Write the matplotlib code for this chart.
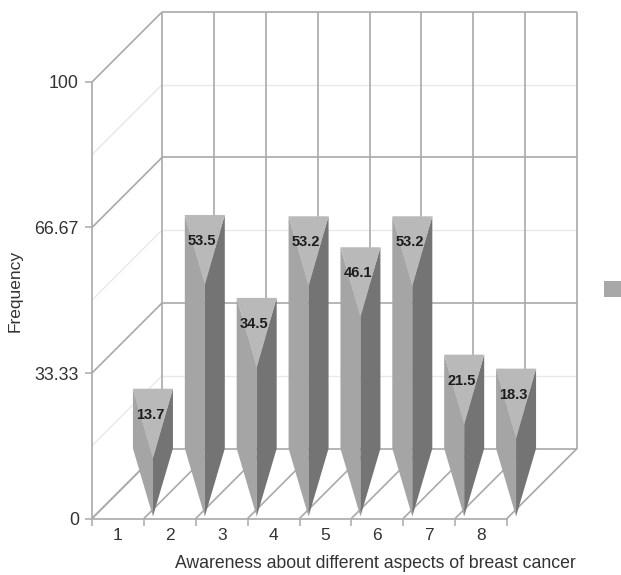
## ================================== ##
##  Awareness bars, fake 3D box chart ##
## ================================== ##

import matplotlib
matplotlib.use("Agg")
import matplotlib.pyplot as plt
from matplotlib.patches import Polygon, Rectangle

plt.rcParams['font.family'] = ['Liberation Sans', 'DejaVu Sans']

categories = [1, 2, 3, 4, 5, 6, 7, 8]
values = [13.7, 53.5, 34.5, 53.2, 46.1, 53.2, 21.5, 18.3]
y_ticks = [0, 33.33, 66.67, 100]
y_tick_labels = ['0', '33.33', '66.67', '100']
y_minor = [16.67, 50, 83.33]

GRID = '#a9a9a9'
GRID_LIGHT = '#e9e9e9'
TEXT = '#333333'
LEFT_FACE = '#a5a5a5'
RIGHT_FACE = '#747474'
TOP_FACE = '#b9b9b9'

W, H = 621, 575
fig = plt.figure(figsize=(W / 100, H / 100), dpi=100)
# front plane of the box, in pixels: x 92-507, y 518-82
ax = fig.add_axes([92 / W, 1 - 518.5 / H, 415 / W, 436.5 / H])
ax.set_xlim(0, 8)
ax.set_ylim(0, 100)

# depth offset of the back wall, in data units
DX = 70 / 415 * 8
DY = 70 / 436.5 * 100
N = len(categories)


def line(x0, y0, x1, y1, color=GRID, lw=1.2, z=1):
    ax.plot([x0, x1], [y0, y1], color=color, lw=lw, clip_on=False, zorder=z,
            solid_capstyle='butt')


## Walls and floor
for y in y_minor:
    line(DX, y + DY, N + DX, y + DY, GRID_LIGHT, 1.0)
    line(0, y, DX, y + DY, GRID_LIGHT, 1.0)
for y in y_ticks:
    line(DX, y + DY, N + DX, y + DY)
    line(0, y, DX, y + DY)
for i in range(N + 1):
    line(i + DX, DY, i + DX, 100 + DY)
    line(i, 0, i + DX, DY)

## Bars: three sided prisms, point towards the viewer
HALF = 20 / 415 * 8      # half width of the top
DROP = 68 / 436.5 * 100  # from back corners down to front corner
for i, val in enumerate(values):
    cx = i + 0.5 + DX / 2
    left = cx - HALF
    right = cx + HALF
    ax.add_patch(Polygon([(left, DY + val), (cx, DY + val - DROP), (cx, DY - DROP),
                          (left, DY)], fc=LEFT_FACE, ec='none', clip_on=False, zorder=3))
    ax.add_patch(Polygon([(right, DY + val), (cx, DY + val - DROP), (cx, DY - DROP),
                          (right, DY)], fc=RIGHT_FACE, ec='none', clip_on=False, zorder=3))
    ax.add_patch(Polygon([(left, DY + val), (right, DY + val), (cx, DY + val - DROP * 1.03)],
                         fc=TOP_FACE, ec='none', clip_on=False, zorder=4))
    ax.annotate(str(val), (cx, DY + val), xytext=(-2.5, -26), textcoords='offset pixels',
                ha='center', va='center', fontsize=10.5, fontweight='bold', color='#1c1c1c',
                zorder=5, annotation_clip=False)

## Axes
for s in ['top', 'right', 'left']:
    ax.spines[s].set_visible(False)
ax.spines['bottom'].set_color(GRID)
ax.spines['bottom'].set_linewidth(1.2)
line(0, 0, 0, 100)
ax.patch.set_alpha(0)

ax.set_xticks(range(N + 1))
ax.set_xticklabels([])
ax.set_xticks([c - 0.5 for c in categories], minor=True)
ax.set_xticklabels([str(c) for c in categories], minor=True)
ax.tick_params(axis='x', which='major', length=5, width=1.1, color=GRID)
ax.tick_params(axis='x', which='minor', length=0, pad=6.5, labelsize=12.5, labelcolor=TEXT)
ax.set_yticks(y_ticks)
ax.set_yticklabels(y_tick_labels)
ax.tick_params(axis='y', length=5, width=1.1, color=GRID, pad=4.5, labelsize=12.8, labelcolor=TEXT)

fig.text(15 / W, 1 - 291 / H, 'Frequency', rotation=90, ha='center', va='center',
         fontsize=12.5, color=TEXT)
fig.text(375 / W, 1 - 563 / H, 'Awareness about different aspects of breast cancer',
         ha='center', va='center', fontsize=12.7, color=TEXT)

## Legend swatch, cut off by the right edge
fig.add_artist(Rectangle((604 / W, 1 - 297 / H), 17 / W, 16 / H, fc='#a8a8a8', ec='none',
                         transform=fig.transFigure))

fig.savefig('out.png', dpi=100)
